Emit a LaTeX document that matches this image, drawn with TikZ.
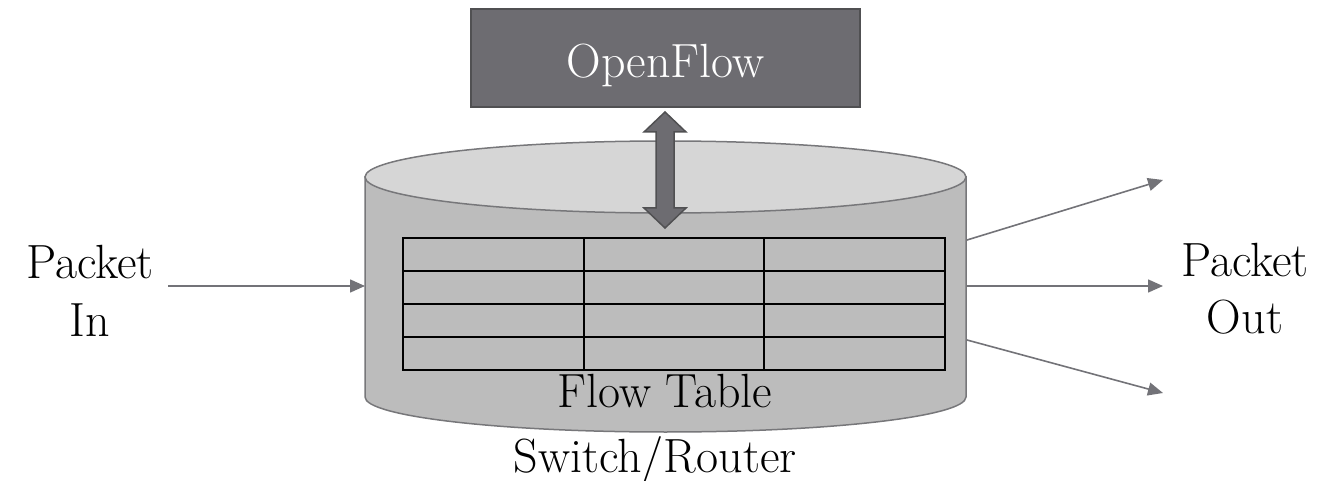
\documentclass[tikz,border=0pt]{standalone}
\usetikzlibrary{arrows.meta,calc}
\definecolor{boxgray}{HTML}{6D6C71}
\definecolor{boxedge}{HTML}{505052}
\definecolor{bodygray}{HTML}{BCBCBC}
\definecolor{topgray}{HTML}{D6D6D6}
\definecolor{edgegray}{HTML}{77777A}
\definecolor{wiregray}{HTML}{737378}
\tikzset{
  bigtext/.style={font=\fontsize{48}{58}\selectfont, inner sep=0pt, align=center},
  ctrlbox/.style={draw=boxedge, line width=1.5pt, fill=boxgray, text=white,
    minimum width=389pt, minimum height=98pt, inner sep=0pt,
    text height=50pt, text depth=10pt,
    font=\fontsize{48}{50}\selectfont},
  cylbody/.style={fill=bodygray, draw=edgegray, line width=1.5pt},
  cyltop/.style={fill=topgray, draw=edgegray, line width=1.5pt},
  tblline/.style={draw=black, line width=2pt},
  wire/.style={draw=wiregray, line width=1.6pt, -{Triangle[length=15pt,width=13pt]}},
  fatarrow/.style={fill=boxgray, draw=boxedge, line width=1.5pt, line join=miter}
}
\begin{document}
\begin{tikzpicture}[x=1pt,y=-1pt]
  \useasboundingbox (0,0) rectangle (1326,481);

  % controller box
  \node[ctrlbox] (of) at (665.5,58) {OpenFlow};

  % switch cylinder
  \path[cylbody] (365,177) -- (365,397)
    arc[start angle=180, end angle=360, x radius=300.5pt, y radius=35pt]
    -- (966,177) -- cycle;
  \path[cyltop] (665.5,177) ellipse[x radius=300.5pt, y radius=36pt];
  \coordinate (cylW) at (365,286);
  \coordinate (outA) at (967,240);
  \coordinate (outB) at (967,286);
  \coordinate (outC) at (967,340);

  % flow table grid
  \draw[tblline] (403,238) rectangle (945,370);
  \foreach \yy in {271,304,337} \draw[tblline] (403,\yy) -- (945,\yy);
  \foreach \xx in {584,764} \draw[tblline] (\xx,238) -- (\xx,370);
  \coordinate (tbl) at (665,228);

  % two-way channel between controller and table
  \coordinate (chTop) at (665,112);
  \path[fatarrow] (chTop) -- ++(21,20) -- ++(-12,0) -- ++(0,76) -- ++(12,0)
    -- (tbl) -- ++(-21,-20) -- ++(12,0) -- ++(0,-76) -- ++(-12,0) -- cycle;

  % labels
  \node[bigtext, anchor=base] (pin) at (90,336) {Packet\\In};
  \node[bigtext, anchor=base] (pout) at (1245,334) {Packet\\Out};
  \node[bigtext, anchor=base] (ft) at (665,407) {Flow Table};
  \node[bigtext, anchor=base] (sr) at (655,472) {Switch/Router};

  % packet paths
  \coordinate (inStart) at (168,286);
  \coordinate (tipA) at (1163,180);
  \coordinate (tipB) at (1163,286);
  \coordinate (tipC) at (1163,393);
  \draw[wire] (inStart) -- (cylW);
  \draw[wire] (outA) -- (tipA);
  \draw[wire] (outB) -- (tipB);
  \draw[wire] (outC) -- (tipC);
\end{tikzpicture}
\end{document}
